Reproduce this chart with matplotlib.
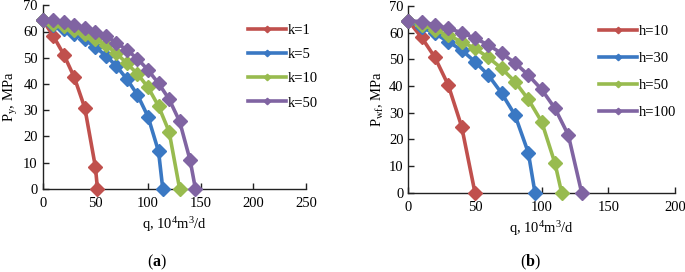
import matplotlib
matplotlib.use("Agg")
import matplotlib.pyplot as plt

plt.rcParams['font.family'] = ['Liberation Serif', 'DejaVu Serif']
plt.rcParams['mathtext.fontset'] = 'custom'
plt.rcParams['mathtext.rm'] = 'Liberation Serif'
plt.rcParams['mathtext.it'] = 'Liberation Serif'
plt.rcParams['mathtext.bf'] = 'Liberation Serif:bold'

# Panel (a): permeability k
k_labels = ["k=1", "k=5", "k=10", "k=50"]
k1_q = [0, 10, 20, 30, 40, 50, 52]
k1_p = [64.5, 58.3, 51.2, 42.5, 30.8, 8.4, 0]
k5_q = [0, 10, 20, 30, 40, 50, 60, 70, 80, 90, 100, 110, 114]
k5_p = [64.5, 62.3, 60.8, 59.2, 57.0, 54.0, 50.8, 46.8, 41.8, 35.8, 27.5, 14.2, 0]
k10_q = [0, 10, 20, 30, 40, 50, 60, 70, 80, 90, 100, 110, 120, 130]
k10_p = [64.5, 63.0, 62.0, 60.5, 59.2, 57.2, 54.8, 51.7, 47.8, 43.8, 38.7, 31.5, 21.8, 0]
k50_q = [0, 10, 20, 30, 40, 50, 60, 70, 80, 90, 100, 110, 120, 130, 140, 145]
k50_p = [64.5, 64.2, 63.8, 62.6, 61.3, 59.8, 58.3, 55.7, 52.9, 49.6, 45.3, 40.2, 34.2, 25.7, 10.8, 0]

# Panel (b): thickness h
h_labels = ["h=10", "h=30", "h=50", "h=100"]
h10_q = [0, 10, 20, 30, 40, 50]
h10_p = [64.5, 58.2, 50.7, 40.3, 24.8, 0]
h30_q = [0, 10, 20, 30, 40, 50, 60, 70, 80, 90, 95]
h30_p = [64.5, 62.0, 59.7, 56.6, 53.5, 49.1, 44.1, 37.3, 29.1, 15.0, 0]
h50_q = [0, 10, 20, 30, 40, 50, 60, 70, 80, 90, 100, 110, 115]
h50_p = [64.5, 63.0, 61.0, 59.0, 56.6, 54.1, 50.7, 46.6, 41.6, 35.0, 26.6, 11.0, 0]
h100_q = [0, 10, 20, 30, 40, 50, 60, 70, 80, 90, 100, 110, 120, 130]
h100_p = [64.5, 64.1, 62.9, 61.6, 60.0, 57.9, 55.4, 52.2, 48.7, 44.1, 38.7, 31.6, 21.6, 0]

colors = ["#C0504D", "#3A78C3", "#98BB4F", "#8064A2"]

W, H = 685, 272
fig = plt.figure(figsize=(W / 100, H / 100), dpi=100)

def ax_at(l, r, t, b):
    return fig.add_axes([l / W, 1 - b / H, (r - l) / W, (b - t) / H])

axa = ax_at(42.7, 306, 5.3, 188.7)
axb = ax_at(408.3, 675, 6, 192.7)

def style(ax, xmax, xstep, ylabel):
    ax.set_xlim(0, xmax)
    ax.set_ylim(0, 70)
    ax.set_xticks(range(0, xmax + 1, xstep))
    ax.set_yticks(range(0, 71, 10))
    for s in ["top", "right"]:
        ax.spines[s].set_visible(False)
    for s in ["left", "bottom"]:
        ax.spines[s].set_linewidth(1.0)
        ax.spines[s].set_color("#222222")
    ax.tick_params(direction="in", length=4, width=1, labelsize=10.5, colors="#222222", labelcolor="black")
    ax.tick_params(axis="x", pad=6)
    ax.set_xlabel(r"q, 10$^{4}$m$^{3}$/d", fontsize=10.5, labelpad=4)
    ax.set_ylabel(ylabel, fontsize=10.5, labelpad=2)

series_a = [(k1_q, k1_p), (k5_q, k5_p), (k10_q, k10_p), (k50_q, k50_p)]
series_b = [(h10_q, h10_p), (h30_q, h30_p), (h50_q, h50_p), (h100_q, h100_p)]

for ax, series, labels in [(axa, series_a, k_labels), (axb, series_b, h_labels)]:
    for (q, p), c, lab in zip(series, colors, labels):
        ax.plot(q, p, color=c, lw=2.6, marker="D", ms=7.3, mec=c, mfc=c,
                label=lab, clip_on=False, zorder=3)

style(axa, 250, 50, r"P$_{y}$, MPa")
style(axb, 200, 50, r"P$_{wf}$, MPa")

axa.legend(loc="upper left", bbox_to_anchor=(0.73, 0.97), frameon=False,
           fontsize=10.5, handlelength=2.6, handletextpad=0.15,
           labelspacing=0.75, markerscale=0.45)
axb.legend(loc="upper left", bbox_to_anchor=(0.665, 0.97), frameon=False,
           fontsize=10.5, handlelength=2.6, handletextpad=0.15,
           labelspacing=0.95, markerscale=0.45)

fig.text(157 / W, 1 - 262 / H, r"($\mathbf{a}$)", ha="center", va="center", fontsize=11.5)
fig.text(530 / W, 1 - 262 / H, r"($\mathbf{b}$)", ha="center", va="center", fontsize=11.5)

fig.savefig("out.png", dpi=100)
